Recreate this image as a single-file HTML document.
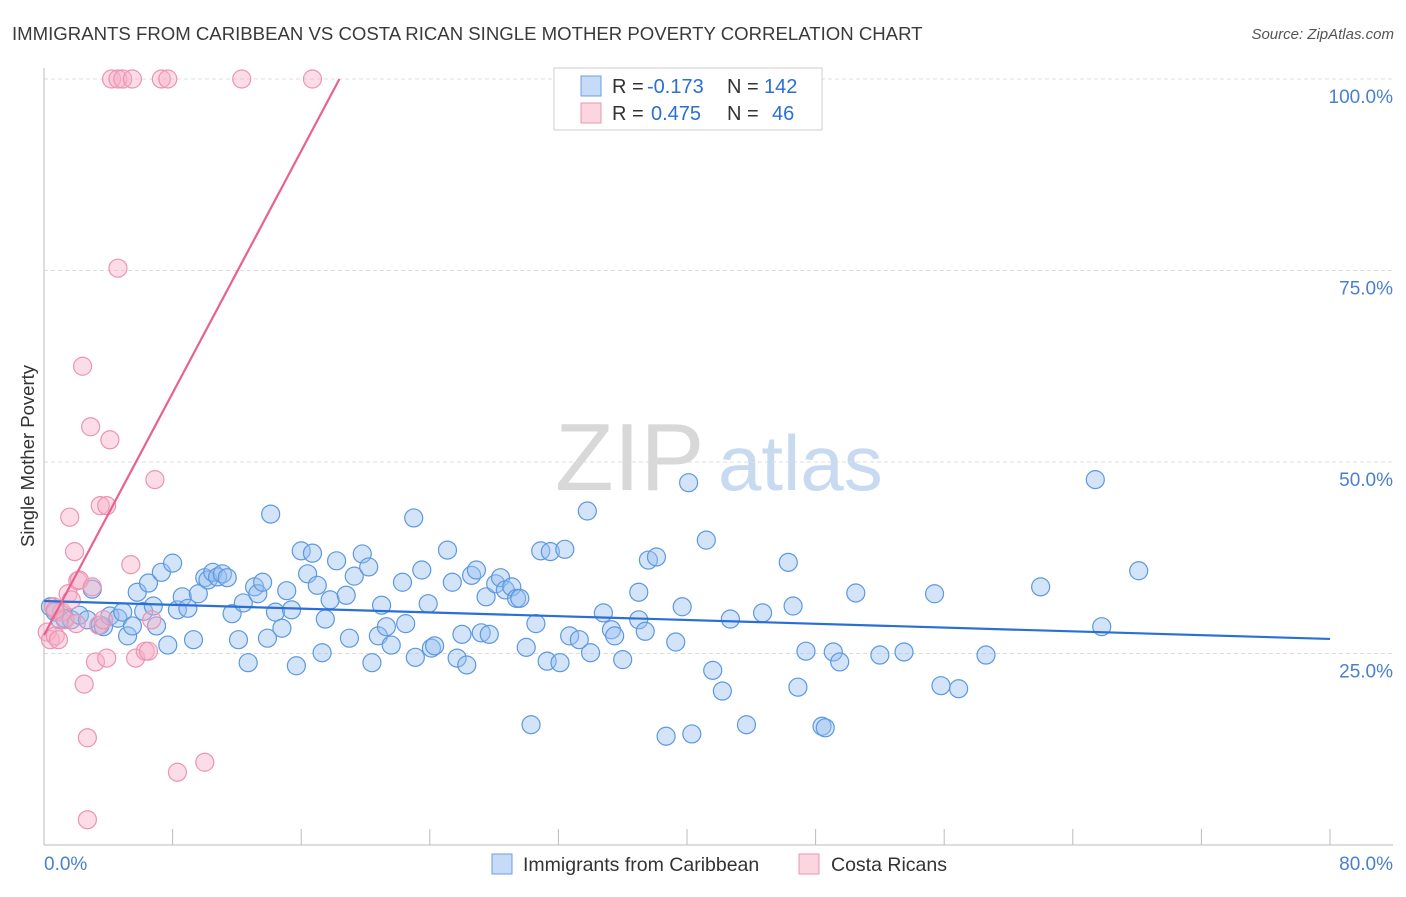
<!DOCTYPE html>
<html><head><meta charset="utf-8"><style>
body{margin:0;background:#fff;font-family:"Liberation Sans",sans-serif;}
svg text{font-family:"Liberation Sans",sans-serif;}
</style></head><body>
<svg id="chart" width="1406" height="892" xmlns="http://www.w3.org/2000/svg">
<text x="12" y="40" font-size="18.6" fill="#3a3a3a">IMMIGRANTS FROM CARIBBEAN VS COSTA RICAN SINGLE MOTHER POVERTY CORRELATION CHART</text>
<text x="1394" y="39" font-size="15" fill="#555" text-anchor="end" font-style="italic">Source: ZipAtlas.com</text>
<g>
<text x="555" y="490" font-size="96" fill="#d8d8d8" font-family="Liberation Serif,serif">ZIP</text>
<text x="718" y="490" font-size="78" fill="#c8daf0">atlas</text>
</g>
<g id="grid"></g>
<g id="axes"></g>
<g id="pts"></g>
<g id="trends"></g>
<text transform="translate(34,456) rotate(-90)" font-size="18.5" fill="#333" text-anchor="middle">Single Mother Poverty</text>
<g>
<rect x="554" y="68" width="268" height="62" fill="#fff" stroke="#ccc"/>
<rect x="581" y="76" width="20" height="20" fill="rgba(150,190,240,0.55)" stroke="#6a9fe0"/>
<rect x="581" y="103" width="20" height="20" fill="rgba(247,180,200,0.55)" stroke="#eb95b0"/>
<text x="612" y="93" font-size="20" fill="#333">R =</text>
<text x="647" y="93" font-size="20" fill="#2a6fd6">-0.173</text>
<text x="727" y="93" font-size="20" fill="#333">N =</text>
<text x="764" y="93" font-size="20" fill="#2a6fd6">142</text>
<text x="612" y="120" font-size="20" fill="#333">R =</text>
<text x="651" y="120" font-size="20" fill="#2a6fd6">0.475</text>
<text x="727" y="120" font-size="20" fill="#333">N =</text>
<text x="772" y="120" font-size="20" fill="#2a6fd6">46</text>
</g>
<g>
<rect x="492" y="854" width="20" height="20" fill="rgba(150,190,240,0.55)" stroke="#6a9fe0"/>
<text x="523" y="871" font-size="19.5" fill="#333">Immigrants from Caribbean</text>
<rect x="799" y="854" width="20" height="20" fill="rgba(247,180,200,0.55)" stroke="#eb95b0"/>
<text x="831" y="871" font-size="19.5" fill="#333">Costa Ricans</text>
</g>
</svg>
<script>
const yTicks=[25,50,75,100];
const yTickLabels=["25.0%","50.0%","75.0%","100.0%"];
const xTickCount=10;
const blueX=[0.4,0.7,1.0,1.3,1.7,2.2,2.7,3.0,3.5,3.7,4.1,4.6,4.9,5.2,5.5,5.8,6.2,6.5,6.8,7.0,7.3,7.7,8.0,8.3,8.6,8.95,9.3,9.6,10.0,10.2,10.5,10.8,11.1,11.4,11.7,12.1,12.4,12.7,13.1,13.3,13.6,13.9,14.1,14.4,14.8,15.1,15.4,15.7,16.0,16.4,16.7,17.0,17.3,17.5,17.8,18.2,18.8,19.0,19.3,19.8,20.2,20.4,20.8,21.0,21.3,21.6,22.3,22.5,23.0,23.1,23.5,23.9,24.1,24.3,25.1,25.4,25.7,26.0,26.3,26.6,26.9,27.2,27.5,27.7,28.1,28.4,28.7,29.1,29.4,29.6,30.0,30.3,30.6,30.9,31.3,31.5,32.1,32.4,32.7,33.3,33.8,34.0,34.8,35.3,35.5,36.0,37.0,37.0,37.4,37.6,38.1,38.7,39.3,39.7,40.1,40.3,41.2,41.6,42.2,42.7,43.7,44.7,46.3,46.6,46.9,47.4,48.4,48.6,49.1,49.5,50.5,52.0,53.5,55.4,55.8,56.9,58.6,62.0,65.4,65.8,68.1];
const blueY=[31.1,30.4,29.4,29.6,29.4,30.0,29.4,33.4,28.7,28.5,29.9,29.6,30.4,27.3,28.6,33.0,30.5,34.2,31.2,28.6,35.6,26.1,36.8,30.7,32.4,30.9,26.8,32.8,34.9,34.6,35.6,35.0,35.4,34.9,30.2,26.8,31.6,23.8,33.7,32.8,34.3,27.0,43.2,30.4,28.3,33.2,30.7,23.4,38.4,35.4,38.1,33.9,25.1,29.5,32.0,37.1,32.6,27.0,35.1,38.0,36.3,23.8,27.3,31.3,28.5,26.1,34.3,28.9,42.7,24.5,35.9,31.5,25.7,26.0,38.5,34.3,24.4,27.5,23.5,35.2,35.9,27.7,32.4,27.5,34.1,34.9,33.3,33.7,32.2,32.2,25.8,15.7,28.9,38.4,24.0,38.3,23.8,38.6,27.3,26.8,43.6,25.1,30.3,28.1,27.3,24.2,33.0,29.4,27.9,37.2,37.6,14.2,26.5,31.1,47.3,14.5,39.8,22.8,20.1,29.5,15.7,30.3,36.9,31.2,20.6,25.3,15.5,15.3,25.2,23.9,32.9,24.8,25.2,32.8,20.8,20.4,24.8,33.7,47.7,28.5,35.8];
const pinkX=[0.2,0.4,0.6,0.7,0.9,1.1,1.3,1.5,1.6,1.7,1.9,2.0,2.1,2.2,2.4,2.5,2.7,2.9,3.0,3.2,3.4,3.5,3.7,3.9,3.9,4.1,4.2,4.6,4.6,4.9,5.4,5.5,5.7,6.3,6.5,6.7,6.9,7.3,7.7,8.3,10.0,12.3,16.7,2.7,0.7];
const pinkY=[27.8,26.8,31.1,27.3,26.8,30.4,29.4,32.8,42.8,32.0,38.3,28.9,34.5,34.6,62.5,21.0,14.0,54.6,33.7,23.9,28.7,44.3,29.4,44.3,24.4,52.9,100,100,75.3,100,36.6,100,24.4,25.3,25.3,29.4,47.7,100,100,9.5,10.8,100,100,3.3,30.7];
const blueTrend=[31.85,26.9];
const pinkTrend=[27.4,3.95];
const X0=44,X1=1330,Y0=845,Y100=79;
const sx=v=>X0+(X1-X0)*v/80;
const sy=v=>Y0-(Y0-Y100)*v/100;
const NS="http://www.w3.org/2000/svg";
function mk(tag,attrs,parent){const e=document.createElementNS(NS,tag);for(const k in attrs)e.setAttribute(k,attrs[k]);parent.appendChild(e);return e;}
const grid=document.getElementById('grid'),axes=document.getElementById('axes');
yTicks.forEach((t,i)=>{
 const l=mk('line',{x1:X0,x2:1393,y1:sy(t),y2:sy(t),stroke:'#dcdcdc','stroke-dasharray':'4,3'},grid);
 
 
 const tx=mk('text',{x:1393,y:sy(t)+24,'font-size':19,fill:'#4a7fd0','text-anchor':'end'},axes);
 tx.textContent=yTickLabels[i];
 
 
});
const ya=mk('line',{x1:X0,x2:X0,y1:68,y2:Y0,stroke:'#bbb'},axes);


const xa=mk('line',{x1:X0,x2:1393,y1:Y0,y2:Y0,stroke:'#bbb'},axes);


for(let i=0;i<=xTickCount;i++){
 const t=mk('line',{x1:sx(i*8),x2:sx(i*8),y1:829,y2:Y0,stroke:'#bbb'},axes);
 
 
}
const xl0=mk('text',{x:44,y:870,'font-size':19,fill:'#4a7fd0'},axes);xl0.textContent='0.0%';


const xl1=mk('text',{x:1393,y:870,'font-size':19,fill:'#4a7fd0','text-anchor':'end'},axes);xl1.textContent='80.0%';


const pts=document.getElementById('pts');
blueX.forEach((x,i)=>{
 const c=mk('circle',{cx:sx(x),cy:sy(blueY[i]),r:9,fill:'rgba(150,190,240,0.42)',stroke:'#5c98e0','stroke-width':1.2},pts);
 
 
});
pinkX.forEach((x,i)=>{
 const c=mk('circle',{cx:sx(x),cy:sy(pinkY[i]),r:9,fill:'rgba(247,175,198,0.42)',stroke:'#eb94b0','stroke-width':1.2},pts);
 
 
});
const tr=document.getElementById('trends');
const bl=mk('line',{x1:sx(0),y1:sy(blueTrend[0]),x2:sx(80),y2:sy(blueTrend[1]),stroke:'#2a6fd6','stroke-width':2.2},tr);


const pxEnd=(100-pinkTrend[0])/pinkTrend[1];
const pl=mk('line',{x1:sx(0),y1:sy(pinkTrend[0]),x2:sx(pxEnd),y2:sy(100),stroke:'#e8628f','stroke-width':2.2},tr);


</script>
</body></html>
